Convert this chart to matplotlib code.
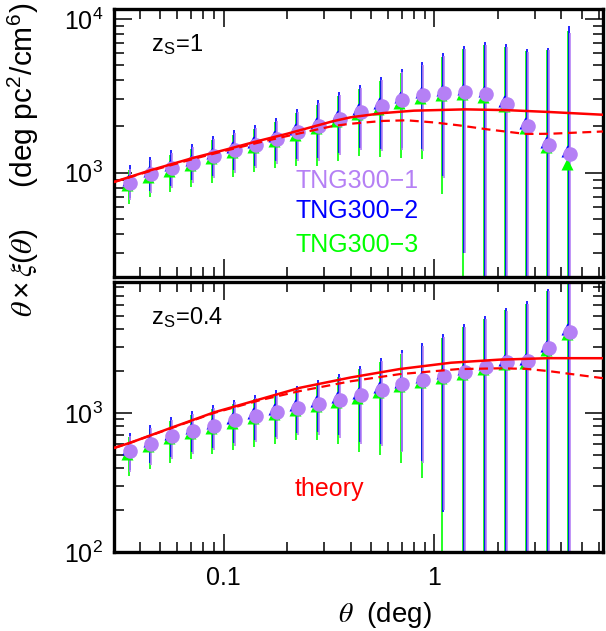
import matplotlib
matplotlib.use('Agg')
import matplotlib.pyplot as plt

plt.rcParams['font.family'] = ['Liberation Sans', 'DejaVu Sans']
plt.rcParams['mathtext.fontset'] = 'custom'
plt.rcParams['mathtext.rm'] = 'Liberation Sans'
plt.rcParams['mathtext.it'] = 'STIXGeneral:italic'
plt.rcParams['mathtext.bf'] = 'Liberation Sans:bold'

# angular bins (deg)
theta = [0.03617, 0.04546, 0.05712, 0.07178, 0.09022, 0.1134, 0.1425, 0.1791,
         0.2250, 0.2828, 0.3553, 0.4466, 0.5612, 0.7053, 0.8862, 1.1137,
         1.3996, 1.7588, 2.2103, 2.7772, 3.4904, 4.3853]

# z_s = 1 panel
top_p = [860, 975, 1067, 1163, 1288, 1402, 1513, 1656, 1833, 2010, 2244,
         2483, 2700, 2950, 3190, 3320, 3350, 3240, 2800, 2020, 1520, 1330]
top_b = [899, 1019, 1115, 1215, 1346, 1465, 1581, 1731, 1915, 2100, 2345,
         2595, 2822, 3083, 3334, 3469, 3501, 3386, 2926, 2111, 1588, 1390]
top_g = [830, 941, 1030, 1122, 1243, 1353, 1460, 1598, 1769, 1940, 2165,
         2396, 2606, 2847, 3078, 3204, 3233, 3127, 2702, 1949, 1467, 1145]
top_pe = [200, 240, 270, 300, 370, 400, 440, 510, 640, 810, 950,
          1080, 1320, 1550, 1800, 2400, 3050, 3550, 3800, 4100, 4750, 6800]
top_be = [215, 255, 290, 320, 390, 425, 470, 540, 680, 860, 1000,
          1140, 1390, 1630, 1900, 2520, 3200, 3700, 3950, 4250, 4900, 7600]
top_ge = [205, 245, 280, 310, 380, 415, 455, 525, 660, 830, 980,
          1110, 1350, 1600, 1850, 2480, 3150, 3650, 3900, 4200, 4850, 7200]

# z_s = 0.4 panel
bot_p = [530, 600, 680, 745, 812, 885, 950, 1020, 1095, 1170, 1245,
         1337, 1470, 1610, 1740, 1850, 1975, 2150, 2317, 2357, 2920, 3820]
bot_b = [554, 627, 711, 779, 849, 925, 993, 1066, 1144, 1223, 1301,
         1397, 1536, 1682, 1818, 1933, 2064, 2247, 2421, 2463, 3051, 3992]
bot_g = [511, 579, 656, 719, 784, 854, 917, 984, 1057, 1129, 1201,
         1290, 1419, 1554, 1679, 1785, 1906, 2075, 2236, 2275, 2818, 3686]
bot_pe = [155, 180, 215, 240, 270, 305, 335, 370, 400, 470, 580,
          740, 890, 1090, 1300, 1650, 2180, 2630, 3140, 3710, 4570, 7000]
bot_be = [165, 190, 225, 255, 285, 320, 355, 390, 425, 495, 610,
          780, 940, 1150, 1370, 1740, 2300, 2760, 3300, 3900, 4800, 7400]
bot_ge = [160, 185, 220, 250, 280, 315, 350, 385, 415, 485, 600,
          770, 920, 1120, 1340, 1700, 2250, 2700, 3250, 3850, 4700, 7300]

# theory curves
top_th_x = [0.0302, 0.0453, 0.072, 0.1, 0.144, 0.2, 0.33, 0.4, 0.57, 0.8, 1.4, 2.2, 3.5, 6.3]
top_th_s = [870, 1040, 1250, 1400, 1600, 1790, 2160, 2290, 2440, 2530, 2580, 2550, 2480, 2380]
top_thd_x = [0.0302, 0.0453, 0.072, 0.1, 0.144, 0.2, 0.33, 0.4, 0.57, 0.74, 1.0, 1.31, 1.8, 2.7, 3.5, 6.3]
top_thd_s = [870, 1030, 1230, 1380, 1560, 1730, 2010, 2080, 2170, 2190, 2120, 2030, 1910, 1786, 1790, 1853]

bot_th_x = [0.0302, 0.036, 0.0574, 0.09, 0.15, 0.231, 0.4, 0.683, 1.2, 2.03, 3.5, 6.3]
bot_th_s = [560, 610, 790, 1010, 1260, 1520, 1800, 2070, 2300, 2420, 2480, 2478]
bot_thd_x = [0.0302, 0.036, 0.0574, 0.09, 0.15, 0.231, 0.4, 0.683, 1.3, 2.0, 2.7, 3.5, 6.3]
bot_thd_s = [560, 610, 785, 1000, 1240, 1440, 1690, 1903, 2070, 2095, 2080, 2000, 1780]

PURPLE = '#b580f5'
BLUE = '#0000ff'
GREEN = '#00ff00'
RED = '#ff0000'

fig = plt.figure(figsize=(6.06, 6.31), dpi=100)
ax1 = fig.add_axes([0.188, 0.561, 0.807, 0.424])
ax2 = fig.add_axes([0.188, 0.1252, 0.807, 0.4278])


def panel(ax, p, b, g, pe, be, ge, sx, sy, dx, dy):
    # green, then blue, then purple on top
    for vals, errs, col, fb, fm, mk, ms in [(g, ge, GREEN, 0.98, 0.965, '^', 9),
                                             (b, be, BLUE, 0.99, 0.972, '^', 9),
                                             (p, pe, PURPLE, 1.0, 1.0, 'o', 10.5)]:
        lo = [min(e, v * 0.999) for v, e in zip(vals, errs)]
        ax.errorbar([t * fb for t in theta], vals, yerr=[lo, errs], fmt='none',
                    ecolor=col, elinewidth=1.2, capsize=0, zorder=2)
        ax.plot([t * fm for t in theta], vals, mk, color=col, ms=ms,
                mec='none', zorder=3)
    ax.plot(sx, sy, color=RED, lw=1.8, zorder=6)
    ax.plot(dx, dy, color=RED, lw=1.6, ls=(0, (4, 2.5)), zorder=6)
    ax.set_xscale('log')
    ax.set_yscale('log')
    ax.set_xlim(0.0302, 6.3)
    for s in ax.spines.values():
        s.set_linewidth(2.4)
    ax.tick_params(which='both', direction='in', top=True, right=True,
                   width=1.1, labelsize=18)
    ax.tick_params(which='major', length=13, pad=8)
    ax.tick_params(which='minor', length=7)


panel(ax1, top_p, top_b, top_g, top_pe, top_be, top_ge,
      top_th_x, top_th_s, top_thd_x, top_thd_s)
panel(ax2, bot_p, bot_b, bot_g, bot_pe, bot_be, bot_ge,
      bot_th_x, bot_th_s, bot_thd_x, bot_thd_s)

ax1.set_ylim(210, 11500)
ax2.set_ylim(100, 8750)
ax1.tick_params(labelbottom=False)
ax2.set_xticks([0.1, 1])
ax2.set_xticklabels(['0.1', '1'])
ax2.tick_params(axis='x', pad=10)

fig.text(0.249, 0.9176, r'z$_\mathrm{S}$=1', fontsize=17, va='baseline')
fig.text(0.249, 0.485, r'z$_\mathrm{S}$=0.4', fontsize=17, va='baseline')
fig.text(0.589, 0.702, 'TNG300\u22121', color=PURPLE, fontsize=18, ha='center', va='baseline')
fig.text(0.589, 0.655, 'TNG300\u22122', color=BLUE, fontsize=18, ha='center', va='baseline')
fig.text(0.589, 0.601, 'TNG300\u22123', color=GREEN, fontsize=18, ha='center', va='baseline')
fig.text(0.487, 0.214, 'theory', color=RED, fontsize=18, va='baseline')

fig.text(0.635, 0.014, r'$\theta$  (deg)', fontsize=20, ha='center', va='baseline')
fig.text(0.04, 0.746, r'$\theta\times\xi(\theta)$     (deg pc$^\mathrm{2}$/cm$^\mathrm{6}$)',
         fontsize=21.5, rotation=90, ha='center', va='center')

fig.savefig('out.png', dpi=100)
